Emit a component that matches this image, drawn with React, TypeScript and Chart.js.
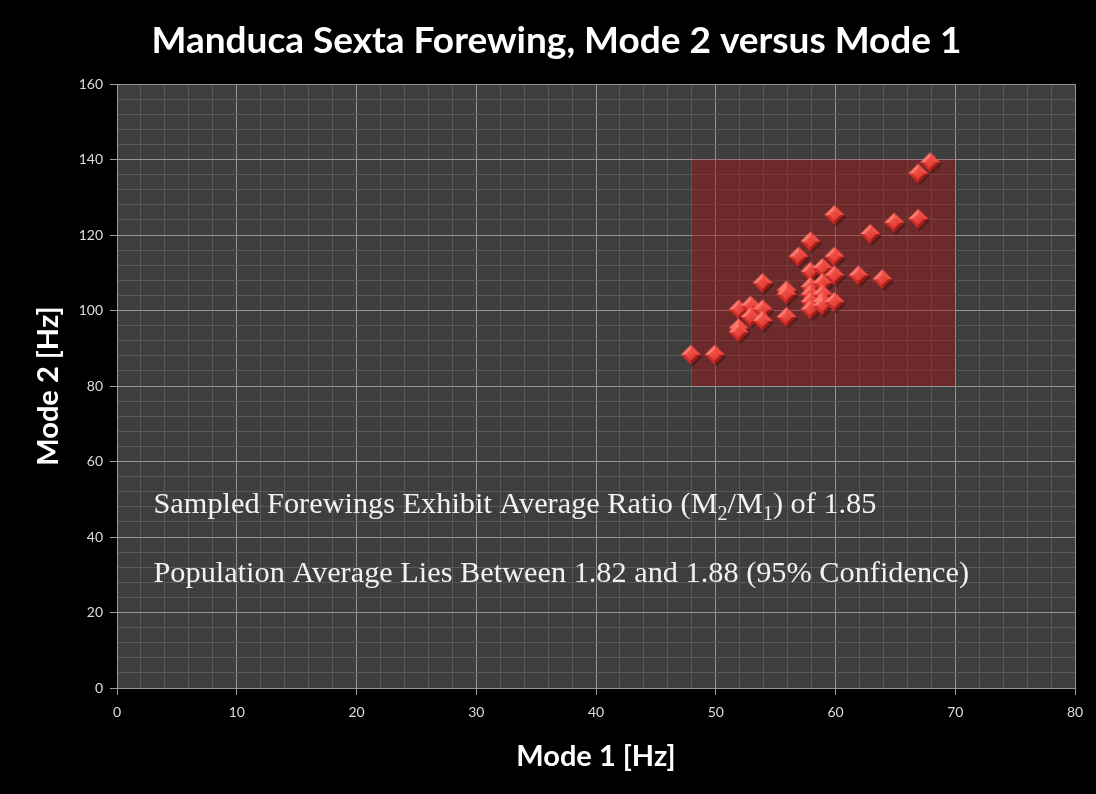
import { useEffect, useRef } from "react";
import { Chart, registerables } from "chart.js";

Chart.register(...registerables);

// ---------- data ----------
const mode1Hz = [48, 50, 52, 52, 52, 53, 53, 54, 54, 54, 56, 56, 56, 57, 58, 58, 58, 58, 58, 58, 59, 59, 59, 59, 59, 60, 60, 60, 60, 62, 63, 64, 65, 67, 67, 68];
const mode2Hz = [88, 88, 100, 95, 94, 101, 98, 107, 100, 97, 105, 104, 98, 114, 118, 110, 106, 104, 102, 100, 111, 107, 104, 102, 101, 125, 114, 109, 102, 109, 120, 108, 123, 136, 124, 139];

const boxX = [48, 70];
const boxY = [80, 140];

const xRange = [0, 80];
const xMajorStep = 10;
const xMinorStep = 2;
const yRange = [0, 160];
const yMajorStep = 20;
const yMinorStep = 4;

const titleText = "Manduca Sexta Forewing, Mode 2 versus Mode 1";
const xTitle = "Mode 1 [Hz]";
const yTitle = "Mode 2 [Hz]";

type Seg = { t: string; sub?: boolean };
const noteLines: Seg[][] = [
  [{ t: "Sampled Forewings Exhibit Average Ratio (M" }, { t: "2", sub: true }, { t: "/M" }, { t: "1", sub: true }, { t: ") of 1.85" }],
  [{ t: "Population Average Lies Between 1.82 and 1.88 (95% Confidence)" }],
];
const noteX = [3.05, 3.05];
const noteY = [46.4, 28.1];

// ---------- marker ----------
function makeDiamond(r: number): HTMLCanvasElement {
  const s = Math.ceil(r * 2 + 6);
  const c = document.createElement("canvas");
  c.width = s;
  c.height = s;
  const g = c.getContext("2d")!;
  const cx = s / 2 - 1, cy = s / 2 - 1;
  const poly = (pts: number[][], fill: string | CanvasGradient) => {
    g.beginPath();
    g.moveTo(pts[0][0], pts[0][1]);
    for (let i = 1; i < pts.length; i++) g.lineTo(pts[i][0], pts[i][1]);
    g.closePath();
    g.fillStyle = fill;
    g.fill();
  };
  // shadow
  poly([[cx + 1.5, cy + 2 - r], [cx + 1.5 + r, cy + 2], [cx + 1.5, cy + 2 + r], [cx + 1.5 - r, cy + 2]], "rgba(0,0,0,0.3)");
  const T = [cx, cy - r], R = [cx + r, cy], B = [cx, cy + r], L = [cx - r, cy], C = [cx, cy];
  poly([L, T, C], "#ff7a70");
  poly([T, R, C], "#f24e46");
  poly([L, B, C], "#cf2e28");
  poly([B, R, C], "#a01c18");
  const ri = r * 0.58;
  const grad = g.createLinearGradient(cx - ri, cy - ri, cx + ri, cy + ri);
  grad.addColorStop(0, "#f65c52");
  grad.addColorStop(1, "#dc322c");
  poly([[cx, cy - ri], [cx + ri, cy], [cx, cy + ri], [cx - ri, cy]], grad);
  return c;
}

// ---------- plugins ----------
const plotBackground = {
  id: "plotBackground",
  beforeDraw(chart: any) {
    const { ctx, chartArea: a } = chart;
    ctx.save();
    ctx.fillStyle = "#3e3e3e";
    ctx.fillRect(a.left, a.top, a.right - a.left, a.bottom - a.top);
    ctx.restore();
  },
};

const rangeBox = {
  id: "rangeBox",
  beforeDatasetsDraw(chart: any) {
    const { ctx, scales } = chart;
    const x0 = scales.x.getPixelForValue(boxX[0]);
    const x1 = scales.x.getPixelForValue(boxX[1]);
    const y0 = scales.y.getPixelForValue(boxY[1]);
    const y1 = scales.y.getPixelForValue(boxY[0]);
    ctx.save();
    ctx.fillStyle = "rgba(165,18,18,0.45)";
    ctx.fillRect(x0, y0, x1 - x0, y1 - y0);
    ctx.restore();
  },
};

const notes = {
  id: "notes",
  afterDatasetsDraw(chart: any) {
    const { ctx, scales } = chart;
    const size = 30.3;
    ctx.save();
    ctx.fillStyle = "#f2f2f2";
    ctx.textBaseline = "alphabetic";
    ctx.textAlign = "left";
    noteLines.forEach((line, i) => {
      let x = scales.x.getPixelForValue(noteX[i]);
      const y = scales.y.getPixelForValue(noteY[i]);
      line.forEach((seg) => {
        const fs = seg.sub ? Math.round(size * 0.66) : size;
        ctx.font = `${fs}px "Liberation Serif", "Times New Roman", serif`;
        ctx.fillText(seg.t, x, seg.sub ? y + size * 0.22 : y);
        x += ctx.measureText(seg.t).width;
      });
    });
    ctx.restore();
  },
};

export default function App() {
  const ref = useRef<HTMLCanvasElement | null>(null);

  useEffect(() => {
    if (!ref.current) return;
    const marker = makeDiamond(10);
    const isMajor = (v: number, step: number) => Math.abs(v / step - Math.round(v / step)) < 1e-6;

    const chart = new Chart(ref.current, {
      type: "scatter",
      data: {
        datasets: [
          {
            data: mode1Hz.map((x, i) => ({ x, y: mode2Hz[i] })),
            pointStyle: marker as any,
            pointRadius: 10,
            pointHoverRadius: 10,
          },
        ],
      },
      options: {
        animation: false,
        responsive: false,
        devicePixelRatio: 1,
        layout: { padding: { left: 17, right: 0, top: 0, bottom: 0 } },
        plugins: {
          legend: { display: false },
          tooltip: { enabled: false },
          title: {
            display: true,
            text: titleText,
            color: "#ffffff",
            font: { family: "Lato", size: 37, weight: "bold" },
            padding: { top: 19, bottom: 20.6 },
          },
        },
        scales: {
          x: {
            type: "linear",
            min: xRange[0],
            max: xRange[1],
            afterFit: (s: any) => {
              s.height = 106;
              s.paddingRight = 21;
            },
            ticks: {
              stepSize: xMinorStep,
              autoSkip: false,
              maxRotation: 0,
              color: "#dcdcdc",
              font: { family: "Lato", size: 14 },
              padding: 9,
              callback: (v: any) => (isMajor(Number(v), xMajorStep) ? String(v) : ""),
            },
            grid: {
              color: (c: any) => (c.tick && isMajor(c.tick.value, xMajorStep) ? "#939393" : "#595959"),
              tickColor: (c: any) => (c.tick && isMajor(c.tick.value, xMajorStep) ? "#9a9a9a" : "rgba(0,0,0,0)"),
              tickLength: 7,
              lineWidth: 1,
            },
            border: { color: "#9a9a9a" },
            title: {
              display: true,
              text: xTitle,
              color: "#ffffff",
              font: { family: "Lato", size: 29, weight: "bold" },
              padding: { top: 0, bottom: 20 },
            },
          },
          y: {
            type: "linear",
            min: yRange[0],
            max: yRange[1],
            afterFit: (s: any) => {
              s.width = 100;
            },
            ticks: {
              stepSize: yMinorStep,
              autoSkip: false,
              color: "#dcdcdc",
              font: { family: "Lato", size: 14 },
              padding: 7,
              callback: (v: any) => (isMajor(Number(v), yMajorStep) ? String(v) : ""),
            },
            grid: {
              color: (c: any) => (c.tick && isMajor(c.tick.value, yMajorStep) ? "#939393" : "#595959"),
              tickColor: (c: any) => (c.tick && isMajor(c.tick.value, yMajorStep) ? "#9a9a9a" : "rgba(0,0,0,0)"),
              tickLength: 7,
              lineWidth: 1,
            },
            border: { color: "#9a9a9a" },
            title: {
              display: true,
              text: yTitle,
              color: "#ffffff",
              font: { family: "Lato", size: 29, weight: "bold" },
              padding: { top: 14, bottom: 0 },
            },
          },
        },
      },
      plugins: [plotBackground, rangeBox, notes],
    });
    return () => chart.destroy();
  }, []);

  return (
    <div style={{ position: "fixed", left: 0, top: 0, width: 1096, height: 794, background: "#000" }}>
      <canvas ref={ref} width={1096} height={794} style={{ display: "block", width: 1096, height: 794 }} />
    </div>
  );
}
